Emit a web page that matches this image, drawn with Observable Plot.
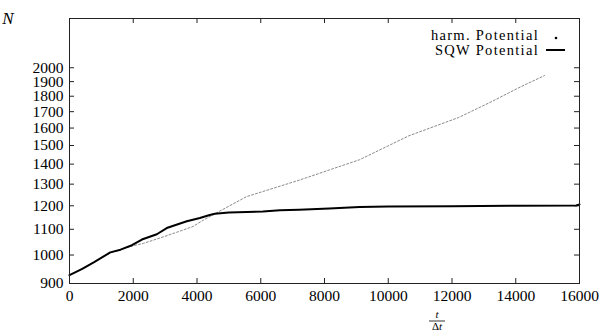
<!DOCTYPE html>
<html>
<head>
<meta charset="utf-8">
<script src="https://cdn.jsdelivr.net/npm/d3@7"></script>
<script src="https://cdn.jsdelivr.net/npm/@observablehq/plot@0.6"></script>
<style>
  html, body { margin: 0; padding: 0; background: #fff; }
  #chart svg { display: block; }
</style>
</head>
<body>
<div id="chart"></div>
<script>
// Particle number N versus time step t/Δt for two trap potentials.
const sqwT = [0, 400, 760, 1280, 1600, 1960, 2270, 2740, 3050, 3680, 4090, 4400, 4560, 5000, 6070, 6600, 7200, 8150, 9100, 10000, 12000, 14000, 15900, 16000];
const sqwN = [928, 950, 973, 1010, 1020, 1037, 1059, 1080, 1105, 1133, 1147, 1160, 1165, 1170, 1175, 1180, 1183, 1188, 1195, 1197, 1198, 1200, 1201, 1206];

const harmT = [0, 760, 1280, 1960, 2320, 3000, 3500, 3885, 4200, 4560, 5550, 7220, 8150, 9100, 9940, 10650, 12200, 13250, 14100, 14900];
const harmN = [928, 973, 1008, 1034, 1044, 1072, 1094, 1112, 1138, 1165, 1241, 1320, 1370, 1423, 1493, 1555, 1663, 1765, 1858, 1943];

const xTicks = [0, 2000, 4000, 6000, 8000, 10000, 12000, 14000, 16000];
const yTicks = [900, 1000, 1100, 1200, 1300, 1400, 1500, 1600, 1700, 1800, 1900, 2000];

const sqw = sqwT.map((t, i) => ({t, n: sqwN[i]}));
const harm = harmT.map((t, i) => ({t, n: harmN[i]}));

const W = 604, H = 333;
const mL = 69, mR = 25, mT = 18, mB = 50;
const plotW = W - mL - mR, plotH = H - mT - mB;
const tick = 5;
const font = "'Liberation Serif', 'Times New Roman', serif";

const chart = Plot.plot({
  width: W,
  height: H,
  marginLeft: mL,
  marginRight: mR,
  marginTop: mT,
  marginBottom: mB,
  style: {fontFamily: font, fontSize: "15px", color: "#000", background: "#fff"},
  x: {domain: [0, 16000]},
  y: {type: "log", domain: [900, 2400]},
  marks: [
    // tick labels only; tick lines are drawn inward below
    Plot.axisX(xTicks, {tickSize: 0, tickPadding: 6, tickFormat: d => String(d), label: null, fontSize: 15.5, letterSpacing: 1}),
    Plot.axisY(yTicks, {tickSize: 0, tickPadding: 6, tickFormat: d => String(d), label: null, fontSize: 15.5, letterSpacing: 1.1}),
    Plot.tickX(xTicks, {x: d => d, insetTop: plotH - tick, stroke: "#222"}),
    Plot.tickX(xTicks, {x: d => d, insetBottom: plotH - tick, stroke: "#222"}),
    Plot.tickY(yTicks, {y: d => d, insetRight: plotW - tick, stroke: "#222"}),
    Plot.tickY(yTicks, {y: d => d, insetLeft: plotW - tick, stroke: "#222"}),
    // harmonic potential: sampled points, rendered as a light dotted trace
    Plot.line(harm, {x: "t", y: "n", stroke: "#8a8a8a", strokeWidth: 1, strokeDasharray: "2 2"}),
    // square-well potential
    Plot.line(sqw, {x: "t", y: "n", stroke: "#000", strokeWidth: 2}),
    Plot.frame({stroke: "#222", strokeWidth: 1})
  ]
});

document.getElementById("chart").appendChild(chart);

const svg = d3.select(chart);

// y-axis title
svg.append("text")
  .attr("x", 8).attr("y", 24)
  .attr("font-family", font).attr("font-style", "italic")
  .attr("font-size", 17).attr("fill", "#000")
  .text("N");

// x-axis title as a fraction t / Δt
const fx = 437;
const frac = svg.append("g").attr("font-family", font).attr("font-size", 11).attr("fill", "#000").attr("text-anchor", "middle");
frac.append("text").attr("x", fx).attr("y", 318).attr("font-style", "italic").text("t");
frac.append("line").attr("x1", fx - 8).attr("x2", fx + 8).attr("y1", 321).attr("y2", 321).attr("stroke", "#000").attr("stroke-width", 0.8);
frac.append("text").attr("x", fx).attr("y", 330).html("Δ<tspan font-style='italic'>t</tspan>");

// legend, top right inside the frame
const lx = W - mR - 40;
const leg = svg.append("g").attr("font-family", font).attr("font-size", 14.5).attr("fill", "#000").attr("text-anchor", "end").attr("letter-spacing", 1.3);
leg.append("text").attr("x", lx).attr("y", 40).text("harm. Potential");
leg.append("text").attr("x", lx).attr("y", 55).text("SQW Potential");
svg.append("circle").attr("cx", W - mR - 23).attr("cy", 38).attr("r", 1.3).attr("fill", "#000");
svg.append("line").attr("x1", W - mR - 33).attr("x2", W - mR - 14).attr("y1", 50).attr("y2", 50).attr("stroke", "#000").attr("stroke-width", 2);
</script>
</body>
</html>
